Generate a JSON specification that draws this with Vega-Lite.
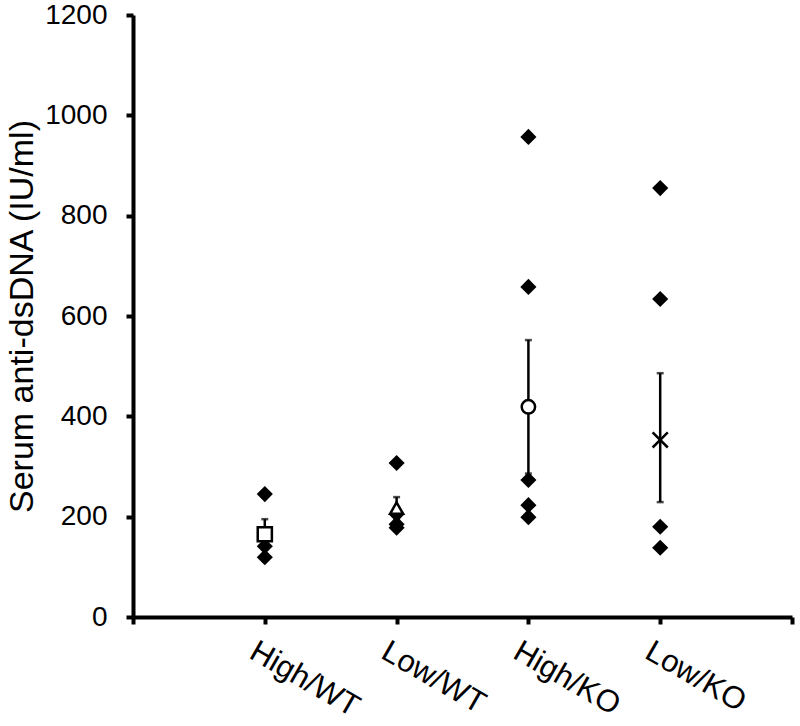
{
  "$schema": "https://vega.github.io/schema/vega-lite/v6.json",
  "width": 659,
  "height": 602,
  "autosize": {"type": "none"},
  "padding": {"left": 133, "top": 15, "right": 8, "bottom": 109},
  "background": "white",
  "config": {
    "view": {"stroke": null},
    "font": "Liberation Sans",
    "axis": {"grid": false, "domainColor": "black", "domainWidth": 4, "tickColor": "black", "tickWidth": 4, "tickSize": 7, "labelColor": "black", "titleColor": "black", "labelFont": "Liberation Sans", "titleFont": "Liberation Sans", "labelFontSize": 28, "titleFontSize": 34, "titleFontWeight": "normal"}
  },
  "datasets": {
    "points": [
      {"pos": 1, "value": 245}, {"pos": 1, "value": 160}, {"pos": 1, "value": 141}, {"pos": 1, "value": 119},
      {"pos": 2, "value": 307}, {"pos": 2, "value": 205}, {"pos": 2, "value": 185}, {"pos": 2, "value": 178},
      {"pos": 3, "value": 957}, {"pos": 3, "value": 658}, {"pos": 3, "value": 273}, {"pos": 3, "value": 223}, {"pos": 3, "value": 199},
      {"pos": 4, "value": 855}, {"pos": 4, "value": 634}, {"pos": 4, "value": 180}, {"pos": 4, "value": 138}
    ],
    "means": [
      {"pos": 1, "group": "High/WT", "mean": 165, "lo": 135, "hi": 195},
      {"pos": 2, "group": "Low/WT", "mean": 217, "lo": 195, "hi": 239},
      {"pos": 3, "group": "High/KO", "mean": 419, "lo": 286, "hi": 552},
      {"pos": 4, "group": "Low/KO", "mean": 353, "lo": 229, "hi": 486}
    ]
  },
  "layer": [
    {
      "data": {"name": "points"},
      "mark": {"type": "point", "shape": "diamond", "filled": true, "color": "black", "size": 260, "opacity": 1},
      "encoding": {
        "x": {"field": "pos", "type": "quantitative", "scale": {"domain": [0, 5], "nice": false, "zero": false},
          "axis": {"values": [0, 1, 2, 3, 4, 5], "title": null, "labelExpr": "['', 'High/WT', 'Low/WT', 'High/KO', 'Low/KO', ''][datum.value]", "labelAngle": 30, "labelAlign": "left", "labelBaseline": "middle", "labelPadding": 25, "labelOffset": -13, "labelFontSize": 31}},
        "y": {"field": "value", "type": "quantitative", "scale": {"domain": [0, 1200], "nice": false},
          "axis": {"values": [0, 200, 400, 600, 800, 1000, 1200], "format": "d", "title": "Serum anti-dsDNA (IU/ml)", "labelPadding": 19, "titlePadding": 5}}
      }
    },
    {
      "data": {"name": "means"},
      "mark": {"type": "rule", "color": "black", "strokeWidth": 2.5},
      "encoding": {
        "x": {"field": "pos", "type": "quantitative"},
        "y": {"field": "lo", "type": "quantitative"},
        "y2": {"field": "hi"}
      }
    },
    {
      "data": {"name": "means"},
      "mark": {"type": "tick", "orient": "horizontal", "color": "black", "thickness": 2.5, "size": 7},
      "encoding": {
        "x": {"field": "pos", "type": "quantitative"},
        "y": {"field": "hi", "type": "quantitative"}
      }
    },
    {
      "data": {"name": "means"},
      "mark": {"type": "tick", "orient": "horizontal", "color": "black", "thickness": 2.5, "size": 7},
      "encoding": {
        "x": {"field": "pos", "type": "quantitative"},
        "y": {"field": "lo", "type": "quantitative"}
      }
    },
    {
      "data": {"name": "means"},
      "transform": [{"filter": "datum.pos == 1"}],
      "mark": {"type": "point", "shape": "square", "filled": true, "fill": "white", "stroke": "black", "strokeWidth": 2.5, "size": 200, "opacity": 1},
      "encoding": {
        "x": {"field": "pos", "type": "quantitative"},
        "y": {"field": "mean", "type": "quantitative"}
      }
    },
    {
      "data": {"name": "means"},
      "transform": [{"filter": "datum.pos == 2"}],
      "mark": {"type": "point", "shape": "triangle-up", "filled": true, "fill": "white", "stroke": "black", "strokeWidth": 2.5, "size": 170, "opacity": 1},
      "encoding": {
        "x": {"field": "pos", "type": "quantitative"},
        "y": {"field": "mean", "type": "quantitative"}
      }
    },
    {
      "data": {"name": "means"},
      "transform": [{"filter": "datum.pos == 3"}],
      "mark": {"type": "point", "shape": "circle", "filled": true, "fill": "white", "stroke": "black", "strokeWidth": 2.5, "size": 180, "opacity": 1},
      "encoding": {
        "x": {"field": "pos", "type": "quantitative"},
        "y": {"field": "mean", "type": "quantitative"}
      }
    },
    {
      "data": {"name": "means"},
      "transform": [{"filter": "datum.pos == 4"}],
      "mark": {"type": "point", "shape": "M-1,-1L1,1M-1,1L1,-1", "filled": false, "stroke": "black", "strokeWidth": 2.5, "size": 230, "opacity": 1},
      "encoding": {
        "x": {"field": "pos", "type": "quantitative"},
        "y": {"field": "mean", "type": "quantitative"}
      }
    }
  ]
}
